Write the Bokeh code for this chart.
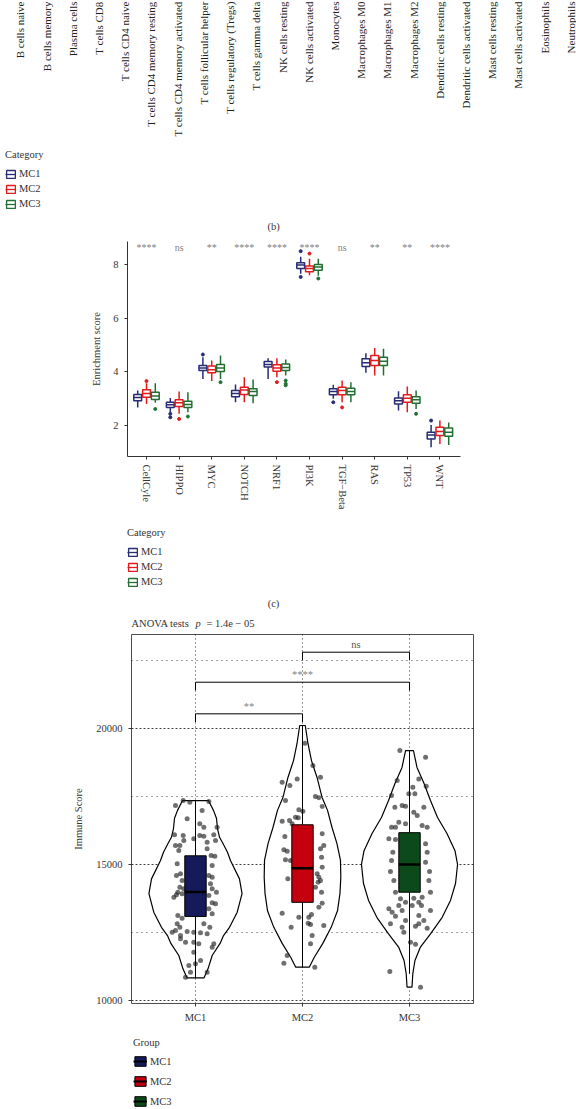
import math
from bokeh.plotting import figure
from bokeh.models import Range1d, FixedTicker, Label, Legend, LegendItem, ColumnDataSource
from bokeh.layouts import column
from bokeh.embed import file_html
from bokeh.resources import INLINE
from bokeh.core.properties import value

FONT = "Liberation Serif"
INK = "#333333"

# ---------------- data ----------------
cell_types = ["B cells naive", "B cells memory", "Plasma cells", "T cells CD8", "T cells CD4 naive",
              "T cells CD4 memory resting", "T cells CD4 memory activated", "T cells follicular helper",
              "T cells regulatory (Tregs)", "T cells gamma delta", "NK cells resting", "NK cells activated",
              "Monocytes", "Macrophages M0", "Macrophages M1", "Macrophages M2", "Dendritic cells resting",
              "Dendritic cells activated", "Mast cells resting", "Mast cells activated", "Eosinophils",
              "Neutrophils"]

groups = ["MC1", "MC2", "MC3"]
line_colors = ["#262d75", "#e41a1c", "#217033"]
fill_colors = ["#151b5a", "#c4000f", "#0c4a1b"]

pathways = ["CellCyle", "HIPPO", "MYC", "NOTCH", "NRF1", "PI3K", "TGF\u2212Beta", "RAS", "TP53", "WNT"]
pathway_sig = ["****", "ns", "**", "****", "****", "****", "ns", "**", "**", "****"]

mc1_low = [2.68, 2.50, 3.74, 2.87, 3.74, 7.66, 3.00, 3.97, 2.56, 1.19]
mc1_q1 = [2.93, 2.68, 4.05, 3.08, 4.18, 7.85, 3.15, 4.20, 2.81, 1.50]
mc1_med = [3.05, 2.78, 4.15, 3.20, 4.28, 7.98, 3.27, 4.34, 2.93, 1.65]
mc1_q3 = [3.16, 2.87, 4.24, 3.31, 4.39, 8.07, 3.37, 4.49, 3.03, 1.75]
mc1_high = [3.31, 3.03, 4.55, 3.53, 4.51, 8.29, 3.52, 4.70, 3.28, 2.02]

mc2_low = [2.81, 2.44, 3.66, 2.87, 3.80, 7.60, 2.87, 3.87, 2.50, 1.32]
mc2_q1 = [3.06, 2.71, 3.97, 3.16, 4.03, 7.73, 3.15, 4.24, 2.87, 1.63]
mc2_med = [3.20, 2.85, 4.08, 3.33, 4.15, 7.85, 3.31, 4.43, 3.02, 1.78]
mc2_q3 = [3.34, 2.96, 4.22, 3.43, 4.27, 7.95, 3.43, 4.61, 3.15, 1.94]
mc2_high = [3.58, 3.27, 4.43, 3.80, 4.51, 8.22, 3.68, 4.89, 3.46, 2.19]

mc3_low = [2.85, 2.50, 3.74, 2.83, 3.87, 7.58, 2.87, 3.87, 2.62, 1.28]
mc3_q1 = [2.97, 2.68, 4.02, 3.12, 4.05, 7.79, 3.15, 4.24, 2.83, 1.60]
mc3_med = [3.10, 2.79, 4.15, 3.27, 4.17, 7.91, 3.27, 4.40, 2.96, 1.75]
mc3_q3 = [3.24, 2.91, 4.28, 3.37, 4.30, 8.00, 3.39, 4.55, 3.08, 1.91]
mc3_high = [3.58, 3.24, 4.61, 3.72, 4.46, 8.22, 3.62, 4.86, 3.31, 2.12]

mc1_out_idx = [1, 1, 2, 5, 5, 6, 9]
mc1_out_val = [2.44, 2.31, 4.65, 8.50, 7.54, 2.87, 2.19]
mc2_out_idx = [0, 1, 4, 5, 6]
mc2_out_val = [3.66, 2.25, 3.62, 8.41, 2.68]
mc3_out_idx = [0, 1, 2, 4, 4, 4, 5, 8]
mc3_out_val = [2.62, 2.34, 3.62, 3.68, 3.56, 3.50, 7.48, 2.44]

# immune score panel
immune_low = [10830, 11225, 10980]
immune_q1 = [13090, 13610, 13982]
immune_med = [13990, 14865, 15000]
immune_q3 = [15320, 16460, 16170]
immune_high = [17350, 20110, 19190]

mc1_violin_level = [10830, 11165, 11655, 12100, 12389, 12690, 13248, 13930, 14472, 15150, 15453,
                    15770, 16000, 16311, 16700, 16990, 17350]
mc1_violin_half = [0.079, 0.117, 0.156, 0.230, 0.262, 0.318, 0.390, 0.435, 0.411, 0.327, 0.299,
                   0.257, 0.225, 0.206, 0.196, 0.168, 0.121]
mc2_violin_level = [11225, 11580, 12100, 12690, 13300, 13930, 14520, 15150, 15770, 16360, 16990,
                    17475, 18200, 18820, 19450, 20110]
mc2_violin_half = [0.063, 0.109, 0.190, 0.268, 0.327, 0.350, 0.358, 0.355, 0.322, 0.276, 0.234,
                   0.182, 0.136, 0.084, 0.051, 0.026]
mc3_violin_level = [10490, 10990, 11470, 11950, 12450, 13050, 13680, 14300, 15000, 15510, 16140,
                    16730, 17350, 17980, 18570, 19190]
mc3_violin_half = [0.023, 0.031, 0.051, 0.100, 0.196, 0.304, 0.383, 0.430, 0.449, 0.425, 0.350,
                   0.262, 0.196, 0.136, 0.070, 0.037]

mc1_jit = [-0.115, -0.053, -0.187, 0.125, 0.062, -0.078, 0.040, 0.078, 0.202, -0.196, -0.115, -0.016,
           0.040, 0.078, 0.171, -0.109, 0.187, -0.146, 0.109, -0.156, 0.146, 0.181, -0.171, 0.156,
           -0.140, -0.178, 0.125, 0.156, -0.125, 0.140, -0.146, -0.165, -0.178, -0.125, 0.196, 0.125,
           -0.202, 0.156, 0.187, 0.125, -0.165, -0.125, 0.156, -0.171, -0.146, 0.078, 0.134, -0.187,
           -0.078, -0.016, 0.047, -0.140, 0.109, -0.093, -0.016, -0.140, 0.031, 0.156, -0.016, -0.062,
           0.047, -0.047, 0.109, -0.093, 0.000, 0.171, -0.218, -0.109, 0.156, -0.187, 0.109]
mc1_score = [17352, 17291, 17168, 17315, 16984, 16678, 16494, 16372, 16372, 16090, 16065, 15943,
             16065, 16041, 16090, 15882, 15882, 15698, 15575, 15514, 15330, 15306, 15024, 14963,
             14656, 14595, 14595, 14534, 14411, 14289, 14166, 13982, 13884, 13921, 13982, 13860,
             13798, 13590, 13554, 13370, 13125, 13027, 13186, 12818, 12696, 12818, 12696, 12573,
             12536, 12512, 12487, 12389, 12451, 12144, 12144, 12267, 12083, 11960, 11777, 11287,
             11470, 11042, 11042, 10858, 11348, 12083, 12512, 14105, 14105, 15698, 15820]

mc2_jit = [0.022, 0.097, -0.190, -0.118, -0.050, 0.168, -0.159, 0.121, 0.153, 0.184, -0.034, 0.003,
           -0.065, -0.040, -0.190, -0.121, -0.097, -0.165, 0.184, -0.174, -0.143, 0.199, 0.168, -0.112,
           -0.159, 0.178, 0.184, -0.137, 0.137, 0.153, 0.146, 0.168, 0.121, 0.178, 0.184, 0.153,
           -0.190, -0.034, 0.059, 0.084, 0.053, 0.075, -0.106, 0.199, 0.090, 0.075, -0.143, -0.174,
           0.115]
mc2_score = [19460, 18639, 18026, 17903, 18148, 18210, 17352, 17499, 17450, 17131, 17009, 16960,
             16739, 16715, 16592, 16617, 16494, 16029, 16127, 15538, 15489, 15698, 15575, 15146,
             15171, 15269, 14901, 14473, 14656, 14534, 14350, 14411, 14166, 13982, 13578, 13431,
             13210, 13063, 13063, 13161, 12843, 12794, 12696, 12757, 12389, 12083, 11654, 11372,
             11225]

mc3_jit = [-0.090, 0.150, -0.115, 0.087, 0.031, 0.156, -0.168, -0.006, 0.050, -0.137, -0.069, -0.037,
           0.134, 0.040, 0.072, -0.100, -0.037, -0.131, 0.118, -0.168, 0.165, -0.193, -0.131, 0.150,
           -0.156, 0.165, -0.168, 0.150, -0.178, 0.187, -0.146, 0.181, -0.131, 0.196, -0.084, -0.037,
           0.040, 0.087, 0.112, -0.100, -0.193, -0.162, 0.196, -0.131, 0.087, -0.037, 0.134, -0.178,
           0.165, -0.069, 0.056, -0.053, 0.087, 0.009, 0.056, -0.184, 0.103, 0.025, -0.069, 0.118]
mc3_score = [19190, 18945, 18087, 18148, 17842, 17879, 17536, 17597, 17597, 17107, 17168, 17144,
             17107, 16923, 16801, 16556, 16494, 16372, 16433, 16372, 16372, 15943, 15918, 15759,
             15453, 15453, 15146, 15085, 14742, 14742, 14411, 14411, 13982, 13982, 13737, 13615,
             13762, 13615, 13492, 13492, 13370, 13247, 13308, 13100, 13125, 12941, 12941, 12818,
             12659, 12696, 12732, 12512, 12818, 12144, 12071, 11066, 10490, 13492, 13308, 13798]

bracket_from = [0, 0, 1]
bracket_to = [1, 2, 2]
bracket_label = ["**", "****", "ns"]
bracket_y = [20540, 21702, 22805]
bracket_tip = 300

W = 576


# ---------------- helpers ----------------
def new_fig(h, l, r, t, b, xr, yr, **kw):
    p = figure(width=W, height=h, x_range=xr, y_range=yr, output_backend="svg",
               toolbar_location=None, min_border_left=l, min_border_right=r,
               min_border_top=t, min_border_bottom=b, **kw)
    p.background_fill_color = "white"
    p.border_fill_color = "white"
    p.frame_align = False
    return p


def blank_fig(h, xr=None):
    p = new_fig(h, 0, 0, 0, 0, xr if xr is not None else Range1d(0, W), Range1d(0, h),
                x_axis_type=None, y_axis_type=None)
    p.outline_line_color = None
    return p


def style_axes(p, size="10.5px"):
    for ax in p.axis:
        ax.major_label_text_font = FONT
        ax.major_label_text_font_size = size
        ax.major_label_text_color = INK
        ax.axis_label_text_font = FONT
        ax.axis_label_text_font_size = "10.5px"
        ax.axis_label_text_font_style = "normal"
        ax.axis_label_text_color = INK
        ax.major_tick_in = 0
        ax.major_tick_out = 3
        ax.major_tick_line_color = INK
        ax.minor_tick_line_color = None
        ax.axis_line_color = INK


def make_legend(items, title, loc, gw, gh, spacing, tstand):
    leg = Legend(items=items, location=loc, title=title, orientation="vertical")
    leg.border_line_color = None
    leg.background_fill_alpha = 0
    leg.padding = 0
    leg.margin = 0
    leg.title_text_font = FONT
    leg.title_text_font_size = "10.5px"
    leg.title_text_font_style = "normal"
    leg.title_text_color = INK
    leg.label_text_font = FONT
    leg.label_text_font_size = "10.5px"
    leg.label_text_color = INK
    leg.glyph_width = gw
    leg.glyph_height = gh
    leg.label_height = gh
    leg.spacing = spacing
    leg.label_standoff = 3
    leg.title_standoff = tstand
    return leg


def screen_label(p, x, y, text, align="left", style="normal"):
    p.add_layout(Label(x=x, y=y, x_units="screen", y_units="screen", text=text,
                       text_font=FONT, text_font_size="10.5px", text_color=INK,
                       text_align=align, text_baseline="middle", text_font_style=style))


def key_items(p, colors, fills, lw, med_w):
    # legend-key proxies: one glyph each, lying outside the visible range
    proxy = ColumnDataSource(data=dict(l=[-1000], r=[-999], b=[-1000], t=[-999]))
    items = []
    for g, c, f in zip(groups, colors, fills):
        rq = p.quad(left="l", right="r", bottom="b", top="t", source=proxy,
                    fill_color=f, line_color=c, line_width=lw)
        rs = p.segment(x0="l", y0="b", x1="r", y1="t", source=proxy, line_color=c,
                       line_width=med_w)
        items.append(LegendItem(label=g, renderers=[rq, rs]))
    return items


# ---------------- top: labels of panel (b), its legend, "(b)" ----------------
HA = 234
pa = blank_fig(HA, Range1d(-0.763, 21.221))
pa.text(x=list(range(len(cell_types))), y=[HA - 1] * len(cell_types), text=cell_types,
        angle=math.pi / 2, text_align="right", text_baseline="middle",
        text_font=value(FONT), text_font_size="11px", text_color="#222222")
pa.add_layout(make_legend(key_items(pa, line_colors, ["white"] * 3, 1.3, 1.3), "Category",
                          (5, 25), 11, 10, 4, 8))
screen_label(pa, 273, HA - 226, "(b)", align="center")

# ---------------- panel (c): pathway enrichment ----------------
pb = new_fig(278, 127, 116, 7, 56, Range1d(-0.583, 9.632), Range1d(0.85, 8.86))
pb.xgrid.visible = False
pb.ygrid.visible = False
pb.outline_line_color = None
pb.yaxis.ticker = FixedTicker(ticks=[2, 4, 6, 8])
pb.xaxis.ticker = FixedTicker(ticks=list(range(len(pathways))))
pb.xaxis.major_label_overrides = {i: n for i, n in enumerate(pathways)}
pb.xaxis.major_label_orientation = "vertical"
pb.yaxis.axis_label = "Enrichment score"
style_axes(pb)
pb.yaxis.major_label_standoff = 6
pb.yaxis.axis_label_standoff = 8

stats = [(mc1_low, mc1_q1, mc1_med, mc1_q3, mc1_high, mc1_out_idx, mc1_out_val),
         (mc2_low, mc2_q1, mc2_med, mc2_q3, mc2_high, mc2_out_idx, mc2_out_val),
         (mc3_low, mc3_q1, mc3_med, mc3_q3, mc3_high, mc3_out_idx, mc3_out_val)]
DODGE = 0.27
BW = 0.24
for gi, (g, c, st) in enumerate(zip(groups, line_colors, stats)):
    low, q1, med, q3, high, oi, ov = st
    off = (gi - 1) * DODGE
    xs = [i + off for i in range(len(pathways))]
    src = ColumnDataSource(dict(x=xs, l=[x - BW / 2 for x in xs], r=[x + BW / 2 for x in xs],
                                low=low, q1=q1, med=med, q3=q3, high=high))
    pb.segment(x0="x", y0="q3", x1="x", y1="high", source=src, line_color=c, line_width=1.5)
    pb.segment(x0="x", y0="q1", x1="x", y1="low", source=src, line_color=c, line_width=1.5)
    pb.quad(left="l", right="r", bottom="q1", top="q3", source=src,
            fill_color="white", line_color=c, line_width=1.5)
    pb.segment(x0="l", y0="med", x1="r", y1="med", source=src, line_color=c, line_width=1.5)
    pb.scatter(x=[i + off for i in oi], y=ov, size=3, color=c)

pb.text(x=list(range(len(pathways))), y=[8.63] * len(pathways), text=pathway_sig,
        text_align="center", text_baseline="middle", text_font=value(FONT),
        text_font_size="10px", text_color="#7f7f7f")

# ---------------- legend of (c), "(c)", ANOVA title ----------------
HB2 = 121
pb2 = blank_fig(HB2)
pb2.add_layout(make_legend(key_items(pb2, line_colors, ["white"] * 3, 1.3, 1.3), "Category",
                           (127, 46), 11, 10, 4, 8))
screen_label(pb2, 273, HB2 - 91, "(c)", align="center")
screen_label(pb2, 131, HB2 - 111, "ANOVA tests")
screen_label(pb2, 195, HB2 - 111, "p", style="italic")
screen_label(pb2, 206, HB2 - 111, "= 1.4e \u2212 05")

# ---------------- panel: immune score violins ----------------
pc = new_fig(395, 131, 103, 1, 25, Range1d(-0.598, 2.598), Range1d(9890, 23456))
pc.outline_line_color = "#4d4d4d"
pc.outline_line_width = 1
pc.xaxis.ticker = FixedTicker(ticks=[0, 1, 2])
pc.xaxis.major_label_overrides = {i: g for i, g in enumerate(groups)}
pc.yaxis.ticker = FixedTicker(ticks=[10000, 15000, 20000], minor_ticks=[12500, 17500, 22500])
pc.yaxis.axis_label = "Immune Score"
style_axes(pc, "10.5px")
for ax in pc.axis:
    ax.axis_line_color = None
pc.yaxis.major_label_standoff = 5
pc.yaxis.axis_label_standoff = 9
pc.xgrid.grid_line_color = "black"
pc.xgrid.grid_line_dash = "1 3"
pc.xgrid.grid_line_alpha = 0.8
pc.ygrid.grid_line_color = "black"
pc.ygrid.grid_line_dash = "2 2"
pc.ygrid.grid_line_alpha = 0.75
pc.ygrid.minor_grid_line_color = "black"
pc.ygrid.minor_grid_line_dash = "1 4"
pc.ygrid.minor_grid_line_alpha = 0.75

violins = [(mc1_violin_level, mc1_violin_half), (mc2_violin_level, mc2_violin_half),
           (mc3_violin_level, mc3_violin_half)]
vx, vy = [], []
for ci, (lev, hw) in enumerate(violins):
    vx.append([ci + w for w in hw] + [ci - w for w in reversed(hw)])
    vy.append(list(lev) + list(reversed(lev)))
pc.patches(xs=vx, ys=vy, fill_color="white", line_color="black", line_width=1.2)

for ci, (jit, sc) in enumerate([(mc1_jit, mc1_score), (mc2_jit, mc2_score), (mc3_jit, mc3_score)]):
    pc.scatter(x=[ci + d for d in jit], y=sc, size=5, fill_color="#222222", fill_alpha=0.65,
               line_color=None)

IBW = 0.2
for ci, (g, fc) in enumerate(zip(groups, fill_colors)):
    src = ColumnDataSource(dict(x=[ci], l=[ci - IBW / 2], r=[ci + IBW / 2], low=[immune_low[ci]],
                                q1=[immune_q1[ci]], med=[immune_med[ci]], q3=[immune_q3[ci]],
                                high=[immune_high[ci]]))
    pc.segment(x0="x", y0="q3", x1="x", y1="high", source=src, line_color="black", line_width=1)
    pc.segment(x0="x", y0="q1", x1="x", y1="low", source=src, line_color="black", line_width=1)
    pc.quad(left="l", right="r", bottom="q1", top="q3", source=src, fill_color=fc,
            line_color="black", line_width=1)
    pc.segment(x0="l", y0="med", x1="r", y1="med", source=src, line_color="black", line_width=2.5)

bxs, bys = [], []
for a, b, y in zip(bracket_from, bracket_to, bracket_y):
    bxs.append([a, a, b, b])
    bys.append([y - bracket_tip, y, y, y - bracket_tip])
pc.multi_line(xs=bxs, ys=bys, line_color="black", line_width=1)
pc.text(x=[(a + b) / 2 for a, b in zip(bracket_from, bracket_to)], y=[y + 80 for y in bracket_y],
        text=bracket_label, text_align="center", text_baseline="bottom", text_font=value(FONT),
        text_font_size="10.5px", text_color=["#7f7f7f", "#7f7f7f", "#555555"])

# ---------------- Group legend ----------------
HD = 81
pd_ = blank_fig(HD)
pd_.add_layout(make_legend(key_items(pd_, ["black"] * 3, fill_colors, 1, 2), "Group",
                           (133, 2), 14, 12, 8, 7))

layout = column(pa, pb, pb2, pc, pd_, spacing=0)
open("out.html", "w").write(file_html(layout, INLINE))
